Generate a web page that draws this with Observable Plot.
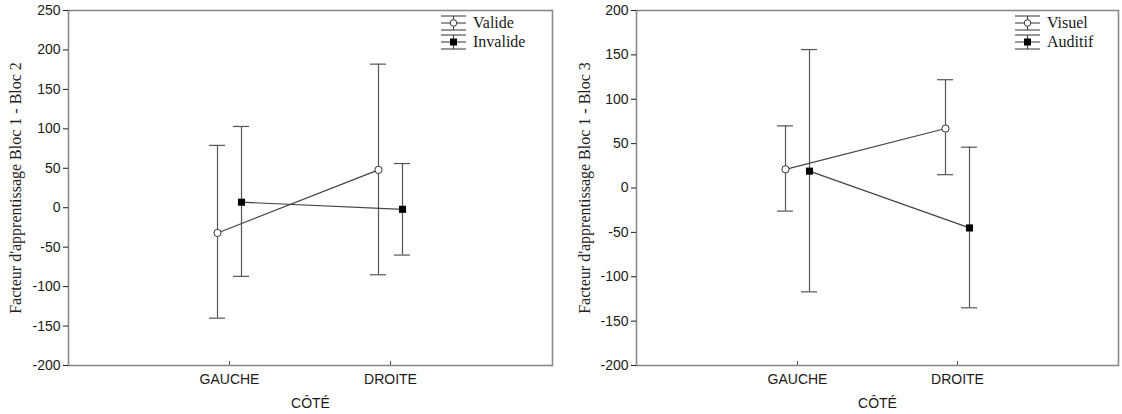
<!DOCTYPE html>
<html><head><meta charset="utf-8">
<script src="https://cdn.jsdelivr.net/npm/d3@7"></script>
<script src="https://cdn.jsdelivr.net/npm/@observablehq/plot@0.6"></script>
<style>
body{margin:0;background:#fff;}
#wrap{display:flex;width:1122px;height:414px;overflow:hidden;}
.panel{position:relative;width:561px;height:414px;}
.panel g[aria-label="y-axis label"] text{font-family:"Liberation Serif","Times New Roman",serif;font-size:16px;fill:#222;}
.legend{position:absolute;left:0;top:0;pointer-events:none;}
</style>
</head><body>
<div id="wrap"><div class="panel" id="p1"></div><div class="panel" id="p2"></div></div>
<script>
const categories = ["GAUCHE", "DROITE"];
const xLabel = "CÔTÉ";

// Panel 1
const series1 = ["Valide", "Invalide"];
const valideMean = [-32, 48];
const valideLow = [-140, -85];
const valideHigh = [79, 182];
const invalideMean = [7, -2];
const invalideLow = [-87, -60];
const invalideHigh = [103, 56];
const yTicks1 = [-200, -150, -100, -50, 0, 50, 100, 150, 200, 250];
const yLabel1 = "Facteur d'apprentissage Bloc 1 - Bloc 2";

// Panel 2
const series2 = ["Visuel", "Auditif"];
const visuelMean = [21, 67];
const visuelLow = [-26, 15];
const visuelHigh = [70, 122];
const auditifMean = [19, -45];
const auditifLow = [-117, -135];
const auditifHigh = [156, 46];
const yTicks2 = [-200, -150, -100, -50, 0, 50, 100, 150, 200];
const yLabel2 = "Facteur d'apprentissage Bloc 1 - Bloc 3";

function rows(mean, lo, hi) {
  return categories.map((c, i) => ({cat: c, mean: mean[i], lo: lo[i], hi: hi[i]}));
}

function seriesMarks(data, dx, filled) {
  const col = "#444";
  return [
    Plot.ruleX(data, {x: "cat", y1: "lo", y2: "hi", dx, stroke: "#555", strokeWidth: 1.2}),
    Plot.tickY(data, {x: "cat", y: "lo", dx, stroke: "#555", strokeWidth: 1.2}),
    Plot.tickY(data, {x: "cat", y: "hi", dx, stroke: "#555", strokeWidth: 1.2}),
    Plot.line(data, {x: "cat", y: "mean", dx, stroke: col, strokeWidth: 1.2}),
    filled
      ? Plot.dot(data, {x: "cat", y: "mean", dx, symbol: "square", r: 4, fill: "#000", stroke: "none"})
      : Plot.dot(data, {x: "cat", y: "mean", dx, symbol: "circle", r: 3.6, fill: "#fff", stroke: "#333", strokeWidth: 1})
  ];
}

function chart(opts) {
  const {dataA, dataB, ticks, label, marginLeft, marginRight, labelOffset} = opts;
  const ymin = d3.min(ticks), ymax = d3.max(ticks);
  return Plot.plot({
    width: 561,
    height: 414,
    marginLeft,
    marginRight,
    marginTop: 10,
    marginBottom: 49,
    style: {fontFamily: "'Liberation Sans', Arial, sans-serif", fontSize: "14px", color: "#1a1a1a", background: "#fff"},
    x: {type: "band", domain: categories, paddingInner: 0.9, paddingOuter: 0.95, align: 0.5},
    y: {domain: [ymin, ymax]},
    marks: [
      Plot.frame({stroke: "#8a8a8a", strokeWidth: 1.6}),
      Plot.axisY({ticks, tickSize: 5, tickPadding: 3, label, labelAnchor: "center", labelOffset, labelArrow: "none", tickFormat: d => String(d)}),
      Plot.ruleX([ymin], {x1: null, x2: null, y1: ymin, y2: ymax, stroke: "#333", strokeWidth: 1}),
      Plot.axisX({tickSize: 0, tickPadding: 9, label: xLabel, labelAnchor: "center", labelOffset: 42, labelArrow: "none"}),
      Plot.ruleX(categories, {x: d => d, y1: ymin, y2: ymin + (ymax - ymin) * 0.011, stroke: "#555"}),
      ...seriesMarks(dataA, -12, false),
      ...seriesMarks(dataB, 12, true)
    ]
  });
}

function legend(el, names, x0, y0) {
  const svg = d3.select(el).append("svg").attr("class", "legend").attr("width", 561).attr("height", 80);
  names.forEach((name, i) => {
    const m = y0 + i * 19;
    const g = svg.append("g").attr("stroke", "#444").attr("stroke-width", 1.1);
    [m - 7, m, m + 7].forEach(yy => g.append("line").attr("x1", x0).attr("x2", x0 + 25).attr("y1", yy).attr("y2", yy));
    g.append("line").attr("x1", x0 + 12.5).attr("x2", x0 + 12.5).attr("y1", m - 7).attr("y2", m + 7);
    if (i === 0) svg.append("circle").attr("cx", x0 + 12.5).attr("cy", m).attr("r", 3.3).attr("fill", "#fff").attr("stroke", "#333");
    else svg.append("rect").attr("x", x0 + 9).attr("y", m - 3.5).attr("width", 7).attr("height", 7).attr("fill", "#000");
    svg.append("text").attr("x", x0 + 32).attr("y", m + 5)
      .attr("font-family", "'Liberation Serif','Times New Roman',serif").attr("font-size", 16).attr("fill", "#1a1a1a").text(name);
  });
}

const p1 = document.getElementById("p1");
p1.appendChild(chart({dataA: rows(valideMean, valideLow, valideHigh), dataB: rows(invalideMean, invalideLow, invalideHigh), ticks: yTicks1, label: yLabel1, marginLeft: 68, marginRight: 9, labelOffset: 59}));
legend(p1, series1, 441, 23);

const p2 = document.getElementById("p2");
p2.appendChild(chart({dataA: rows(visuelMean, visuelLow, visuelHigh), dataB: rows(auditifMean, auditifLow, auditifHigh), ticks: yTicks2, label: yLabel2, marginLeft: 75, marginRight: 4, labelOffset: 58}));
legend(p2, series2, 1015 - 561, 23);
</script>
</body></html>
